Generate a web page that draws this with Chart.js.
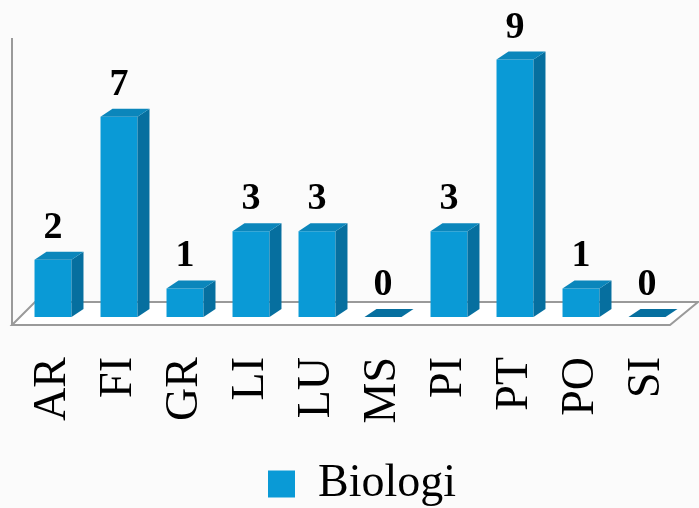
<!DOCTYPE html>
<html>
<head>
<meta charset="utf-8">
<script src="https://cdn.jsdelivr.net/npm/chart.js@4.4.1/dist/chart.umd.min.js"></script>
<style>
  html, body { margin: 0; padding: 0; background: #fbfbfb; }
  #wrap { width: 699px; height: 508px; }
</style>
</head>
<body>
<div id="wrap"><canvas id="c" width="699" height="508"></canvas></div>
<script>
const categories = ['AR', 'FI', 'GR', 'LI', 'LU', 'MS', 'PI', 'PT', 'PO', 'SI'];
const biologi = [2, 7, 1, 3, 3, 0, 3, 9, 1, 0];
const seriesName = 'Biologi';
const yTicks = { min: 0, max: 10 };

const FRONT = '#0a9ad6';
const SIDE = '#066f9f';
const TOP = '#0b86bb';
const DX = 12, DY = -8;

const floorPlugin = {
  id: 'floor3d',
  afterLayout(chart) {
    if (chart.legend) {
      chart.legend.left += 12; chart.legend.right += 12;
      chart.legend.top += 9; chart.legend.bottom += 9;
    }
  },
  beforeDatasetsDraw(chart) {
    const ctx = chart.ctx;
    const a = chart.chartArea;
    const y0 = chart.scales.y.getPixelForValue(0);
    const fy = y0 + 8, by = y0 - 15;
    const fl = a.left - 8, bl = a.left + 15;
    const fr = a.right - 10, br = a.right + 18;
    ctx.save();
    ctx.fillStyle = '#ffffff';
    ctx.strokeStyle = '#9a9a9a';
    ctx.lineWidth = 2;
    ctx.beginPath();
    ctx.moveTo(fl, fy); ctx.lineTo(bl, by); ctx.lineTo(br, by); ctx.lineTo(fr, fy); ctx.closePath();
    ctx.fill(); ctx.stroke();
    ctx.beginPath();
    ctx.moveTo(fl, a.top + 7); ctx.lineTo(fl, fy);
    ctx.stroke();
    ctx.restore();
  }
};

const bar3dPlugin = {
  id: 'bar3d',
  afterDatasetsDraw(chart) {
    const ctx = chart.ctx;
    const meta = chart.getDatasetMeta(0);
    const data = chart.data.datasets[0].data;
    ctx.save();
    meta.data.forEach((bar, i) => {
      const p = bar.getProps(['x', 'y', 'base', 'width'], true);
      const l = p.x - p.width / 2, r = p.x + p.width / 2;
      const top = Math.min(p.y, p.base);
      const base = p.base;
      if (data[i] === 0) {
        ctx.fillStyle = SIDE;
        ctx.beginPath();
        ctx.moveTo(l, base); ctx.lineTo(r, base); ctx.lineTo(r + DX, base + DY); ctx.lineTo(l + DX, base + DY); ctx.closePath();
        ctx.fill();
      } else {
        ctx.fillStyle = SIDE;
        ctx.beginPath();
        ctx.moveTo(r, top); ctx.lineTo(r + DX, top + DY); ctx.lineTo(r + DX, base + DY); ctx.lineTo(r, base); ctx.closePath();
        ctx.fill();
        ctx.fillStyle = TOP;
        ctx.beginPath();
        ctx.moveTo(l, top); ctx.lineTo(l + DX, top + DY); ctx.lineTo(r + DX, top + DY); ctx.lineTo(r, top); ctx.closePath();
        ctx.fill();
      }
      ctx.fillStyle = '#000000';
      ctx.font = 'bold 38px "Liberation Serif", serif';
      ctx.textAlign = 'center';
      ctx.textBaseline = 'alphabetic';
      ctx.fillText(String(data[i]), p.x, top + DY - 14);
    });
    ctx.restore();
  }
};

new Chart(document.getElementById('c'), {
  type: 'bar',
  data: {
    labels: categories,
    datasets: [{
      label: seriesName,
      data: biologi,
      backgroundColor: FRONT,
      borderWidth: 0,
      barPercentage: 0.56,
      categoryPercentage: 1.0
    }]
  },
  options: {
    responsive: false,
    animation: false,
    devicePixelRatio: 1,
    layout: { padding: { left: 20, right: 19, top: 31, bottom: 0 } },
    scales: {
      x: {
        grid: { display: false, drawTicks: false },
        border: { display: false },
        afterFit(scale) {
          scale.paddingLeft = 0;
          scale.paddingRight = 0;
          scale.height = 135;
        },
        ticks: {
          color: '#000000',
          padding: 40,
          minRotation: 90,
          maxRotation: 90,
          font: { family: '"Liberation Serif", serif', size: 46 }
        }
      },
      y: {
        display: false,
        min: yTicks.min,
        max: yTicks.max
      }
    },
    plugins: {
      legend: {
        position: 'bottom',
        labels: {
          color: '#000000',
          boxWidth: 27,
          boxHeight: 27,
          padding: 0,
          font: { family: '"Liberation Serif", serif', size: 46 }
        }
      },
      tooltip: { enabled: false }
    }
  },
  plugins: [floorPlugin, bar3dPlugin]
});
</script>
</body>
</html>
